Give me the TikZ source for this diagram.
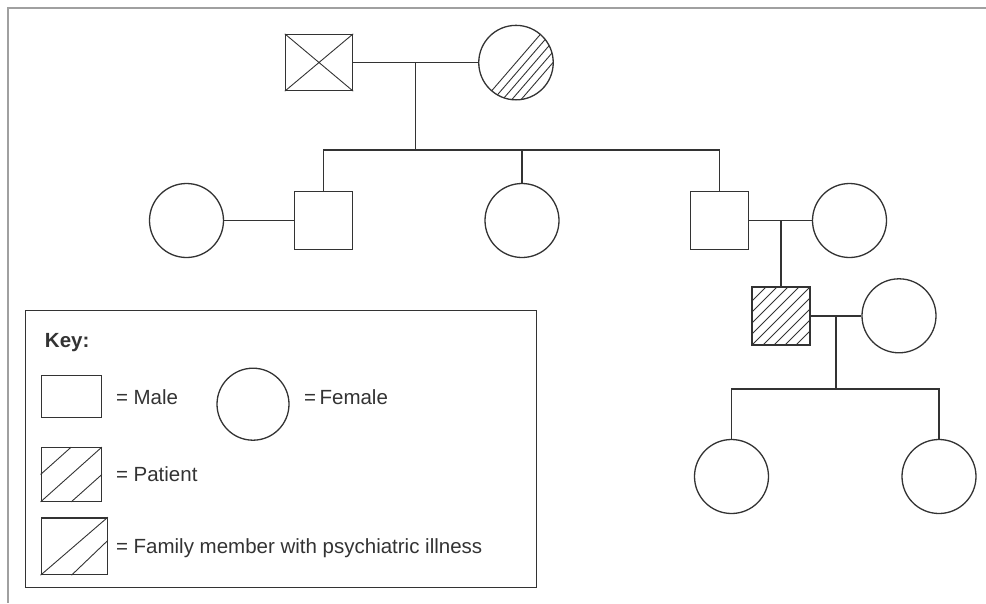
\documentclass[tikz,border=0pt]{standalone}
\usepackage{fontspec}
\setmainfont{Liberation Sans}
\usetikzlibrary{calc}
\definecolor{ink}{HTML}{333333}
\definecolor{framegray}{HTML}{A0A0A0}
\begin{document}
\begin{tikzpicture}[x=1pt,y=-1pt,
  male/.style={draw=ink, line width=1.3pt, rectangle, inner sep=0pt, minimum width=58pt, minimum height=58pt},
  female/.style={draw=ink, line width=1.3pt, circle, inner sep=0pt, minimum size=74pt},
  link/.style={draw=ink, line width=1.3pt},
  hatch/.style={draw=ink, line width=0.9pt},
  lbl/.style={anchor=base west, inner sep=0pt, text=ink, font=\fontsize{20.5}{24}\selectfont},
  keyframe/.style={draw=ink, line width=1.3pt, rectangle, inner sep=0pt}]
\useasboundingbox (0,0) rectangle (986,603);
% outer frame
\draw[framegray, line width=2pt] (986,7.5) -- (8,7.5) -- (8,603);

% generation I
\node[male, minimum width=67pt, minimum height=56pt] (gf) at (319,62.5) {};
\node[female, minimum size=74.5pt] (gm) at (516,62.6) {};
\draw[hatch] (gf.north west) -- (gf.south east) (gf.south west) -- (gf.north east);
\begin{scope}
  \clip (gm.center) circle[radius=37pt];
  \foreach \k in {0,...,4}{
    \draw[hatch] ($(gm.center)+({\k*7*0.757},{\k*7*0.653})+(-32.65,37.85)$) -- ($(gm.center)+({\k*7*0.757},{\k*7*0.653})+(32.65,-37.85)$);
  }
\end{scope}
\coordinate (m1) at ($(gf.east)!0.5!(gm.west |- gf.east)$);
\coordinate (sib1) at ($(m1)+(0,87.5)$);

% generation II
\node[female] (w1) at (186.5,220.5) {};
\node[male] (s1) at (323.5,220.5) {};
\node[female] (d1) at (522,220.5) {};
\node[male] (s2) at (719.5,220.5) {};
\node[female] (w2) at (849.5,220.5) {};

% generation III
\node[male] (pat) at (781,316) {};
\node[female] (w3) at (899,315.8) {};
\begin{scope}
  \clip (pat.south west) rectangle (pat.north east);
  \foreach \c in {-44,-33,...,44}{
    \draw[hatch] ($(pat.south west)+(-70,{70-\c})$) -- ($(pat.south west)+(130,{-130-\c})$);
  }
\end{scope}
\node[male] (pat2) at (781,316) {};

% generation IV
\node[female] (c1) at (731.5,476.5) {};
\node[female] (c2) at (939,476.5) {};

% connectors
\draw[link] (gf.east) -- (gf.east -| gm.west);
\draw[link] (m1) -- (sib1);
\draw[link] (s1.north) |- (sib1) -| (s2.north);
\draw[link] (d1.north) -- (d1.north |- sib1);
\draw[link] (w1.east) -- (s1.west);
\draw[link] (s2.east) -- (w2.west);
\draw[link] (pat.north) -- (pat.north |- s2.east);
\draw[link] (pat.east) -- (pat.east -| w3.west);
\coordinate (m3) at ($(pat.east)!0.5!(pat.east -| w3.west)$);
\coordinate (sib3) at ($(m3)+(0,73)$);
\draw[link] (m3) -- (sib3);
\draw[link] (c1.north) |- (sib3) -| (c2.north);

% key
\node[keyframe, minimum width=511pt, minimum height=277pt] (keybox) at (280.7,449) {};
\node[lbl, font=\fontsize{20.5}{24}\selectfont\bfseries] (keyt) at (44.8,347) {Key:};
\node[male, minimum width=60pt, minimum height=42pt] (km) at (71.2,396.7) {};
\node[lbl] (kmt) at (115.8,404.3) {= Male};
\node[female, minimum size=72pt] (kf) at (253,404.2) {};
\node[lbl] (kft) at (304,404.3) {=\,Female};
\node[male, minimum width=60pt, minimum height=53.5pt] (kp) at (71.2,474.5) {};
\draw[hatch] (kp.west) -- (kp.north);
\draw[hatch] (kp.south west) -- (kp.north east);
\draw[hatch] (kp.south) -- (kp.east);
\node[lbl] (kpt) at (115.8,481.7) {= Patient};
\node[male, minimum width=66pt, minimum height=56.7pt] (kfm) at (74.2,546.2) {};
\draw[hatch] (kfm.south west) -- (kfm.north east);
\draw[hatch] ($(kfm.south west)!0.46!(kfm.south east)$) -- ($(kfm.south east)!0.6!(kfm.north east)$);
\node[lbl] (kfmt) at (115.8,553) {= Family member with psychiatric illness};
\end{tikzpicture}
\end{document}
